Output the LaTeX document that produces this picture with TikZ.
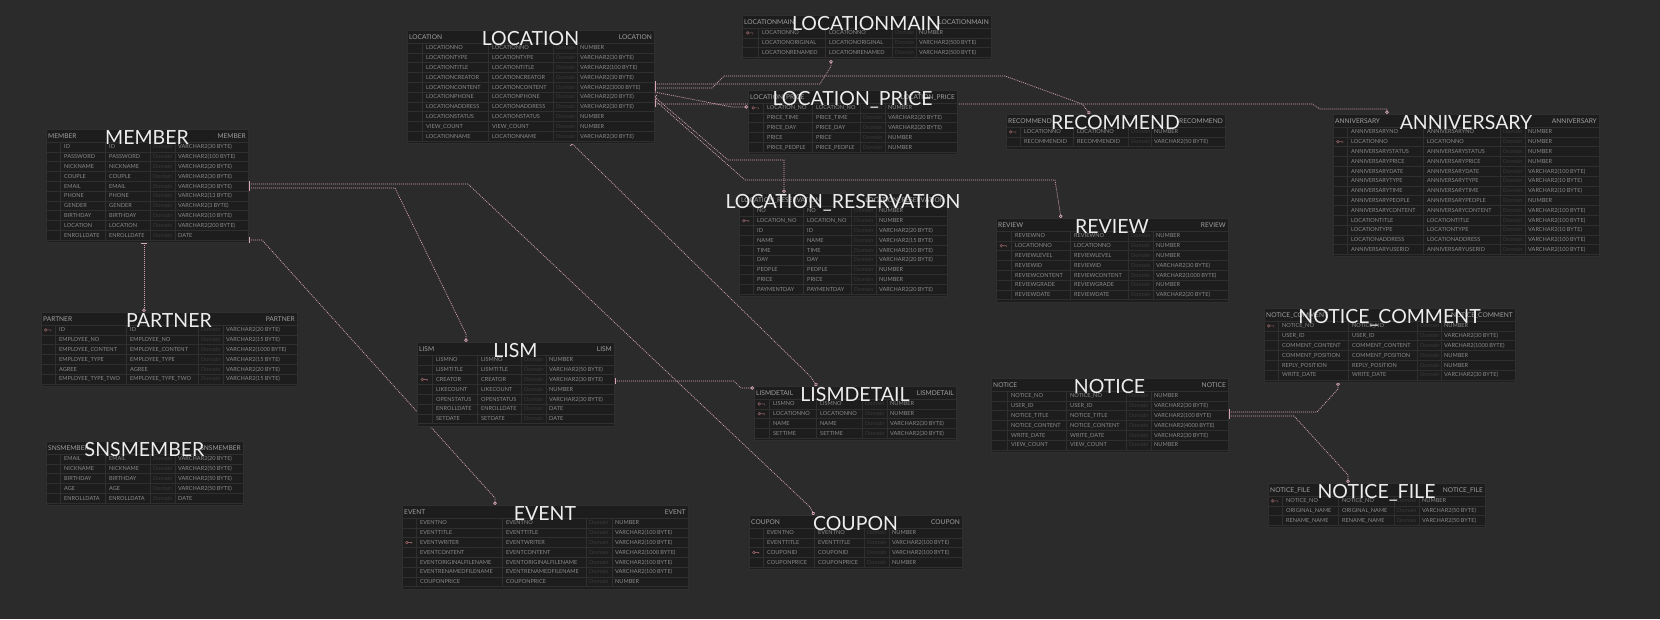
\documentclass[tikz,border=0pt]{standalone}
\usepackage{fontspec}
\setmainfont{Lato}
\usetikzlibrary{arrows.meta,positioning}

\definecolor{bgcol}{HTML}{2B2B2B}
\definecolor{tblfill}{HTML}{1D1D1D}
\definecolor{gridcol}{HTML}{2F2F2F}
\definecolor{cellcol}{HTML}{8A8A8A}
\definecolor{hdrcol}{HTML}{A0A0A0}
\definecolor{domcol}{HTML}{3A3A3A}
\definecolor{relcol}{HTML}{D9A7B6}
\definecolor{keycol}{HTML}{8E5E62}

\pgfdeclarelayer{background}
\pgfsetlayers{background,main}

% #1 name, #2 title, #3 left, #4 top, #5 width, #6 column lines a/b/c/d, #7 rows, #8 row list key/name/type
\newcommand\ertable[8]{%
  \node[tbl, minimum width=#5, minimum height=15+#7*9.8] (#1) at (#3,#4) {};
  \foreach \ca/\cb/\cc/\cd in {#6}{%
    \draw[gridline] (#3,#4+13) -- (#3+#5,#4+13);
    \foreach \k in {1,...,#7}
      \draw[gridline] (#3,#4+13+9.8*\k) -- (#3+#5,#4+13+9.8*\k);
    \foreach \c in {\ca,\cb,\cc,\cd}
      \draw[gridline] (#3+\c,#4+13) -- (#3+\c,#4+13+9.8*#7);
    \foreach \k/\n/\t [count=\i] in {#8}{%
      \pgfmathsetmacro\ry{#4+13+9.8*\i-2.9}
      \node[cell] (#1-a\i) at (#3+\ca+4,\ry) {\n};
      \node[cell] (#1-b\i) at (#3+\cb+4,\ry) {\n};
      \node[dom] (#1-c\i) at (#3+\cc+3,\ry) {Domain};
      \node[cell] (#1-d\i) at (#3+\cd+3,\ry) {\t};
      \ifnum\k=1
        \draw[keymark] (#3+\ca/2-2.2,\ry-2) circle[radius=1.3pt]
          (#3+\ca/2-0.9,\ry-2) -- (#3+\ca/2+2.8,\ry-2) -- (#3+\ca/2+2.8,\ry-0.6);
      \fi
    }
  }
  \node[hdr, anchor=base west] (#1-hl) at (#3+2,#4+9) {#2};
  \node[hdr, anchor=base east] (#1-hr) at (#3+#5-2,#4+9) {#2};
  \node[ttl] (#1-t) at (#3+#5/2,#4+15) {#2};
}

\begin{document}
\begin{tikzpicture}[
  x=1pt, y=-1pt,
  tbl/.style={draw=gridcol, fill=tblfill, anchor=north west, inner sep=0pt, line width=0.6pt},
  gridline/.style={draw=gridcol, line width=0.5pt},
  cell/.style={font=\fontsize{5.6}{6}\selectfont, text=cellcol, inner sep=0pt, anchor=base west},
  dom/.style={cell, text=domcol},
  hdr/.style={font=\fontsize{6.6}{7}\selectfont, text=hdrcol, inner sep=0pt},
  ttl/.style={font=\fontsize{19.5}{20}\selectfont, text=white!93!black, inner sep=0pt, anchor=base},
  keymark/.style={draw=keycol, line width=0.6pt},
  rel/.style={draw=relcol, line width=0.7pt, dash pattern=on 1pt off 1pt,
    {Bar[width=6pt,line width=0.7pt]}-{Circle[open,length=3.5pt,line width=0.7pt]}}
]
\useasboundingbox (0,0) rectangle (1660,619);

% tables
\ertable{member}{MEMBER}{46}{129}{202}{14/59/104/129}{10}{0/ID/VARCHAR2(30 BYTE),0/PASSWORD/VARCHAR2(100 BYTE),0/NICKNAME/VARCHAR2(20 BYTE),0/COUPLE/VARCHAR2(30 BYTE),0/EMAIL/VARCHAR2(30 BYTE),0/PHONE/VARCHAR2(13 BYTE),0/GENDER/VARCHAR2(3 BYTE),0/BIRTHDAY/VARCHAR2(10 BYTE),0/LOCATION/VARCHAR2(200 BYTE),0/ENROLLDATE/DATE}
\ertable{location}{LOCATION}{407}{30}{247}{15/81/146/170}{10}{0/LOCATIONNO/NUMBER,0/LOCATIONTYPE/VARCHAR2(30 BYTE),0/LOCATIONTITLE/VARCHAR2(100 BYTE),0/LOCATIONCREATOR/VARCHAR2(30 BYTE),0/LOCATIONCONTENT/VARCHAR2(3000 BYTE),0/LOCATIONPHONE/VARCHAR2(20 BYTE),0/LOCATIONADDRESS/VARCHAR2(30 BYTE),0/LOCATIONSTATUS/NUMBER,0/VIEW\_COUNT/NUMBER,0/LOCATIONNAME/VARCHAR2(30 BYTE)}
\ertable{locmain}{LOCATIONMAIN}{742}{15}{249}{16/83/150/174}{3}{1/LOCATIONNO/NUMBER,0/LOCATIONORIGINAL/VARCHAR2(500 BYTE),0/LOCATIONRENAMED/VARCHAR2(500 BYTE)}
\ertable{locprice}{LOCATION\_PRICE}{748}{90}{209}{15/64/112/137}{5}{1/LOCATION\_NO/NUMBER,0/PRICE\_TIME/VARCHAR2(20 BYTE),0/PRICE\_DAY/VARCHAR2(20 BYTE),0/PRICE/NUMBER,0/PRICE\_PEOPLE/NUMBER}
\ertable{recommend}{RECOMMEND}{1006}{114}{219}{14/67/122/145}{2}{1/LOCATIONNO/NUMBER,0/RECOMMENDID/VARCHAR2(50 BYTE)}
\ertable{anniversary}{ANNIVERSARY}{1333}{114}{266}{14/90/167/192}{13}{0/ANNIVERSARYNO/NUMBER,1/LOCATIONNO/NUMBER,0/ANNIVERSARYSTATUS/NUMBER,0/ANNIVERSARYPRICE/NUMBER,0/ANNIVERSARYDATE/VARCHAR2(100 BYTE),0/ANNIVERSARYTYPE/VARCHAR2(10 BYTE),0/ANNIVERSARYTIME/VARCHAR2(10 BYTE),0/ANNIVERSARYPEOPLE/NUMBER,0/ANNIVERSARYCONTENT/VARCHAR2(100 BYTE),0/LOCATIONTITLE/VARCHAR2(100 BYTE),0/LOCATIONTYPE/VARCHAR2(10 BYTE),0/LOCATIONADDRESS/VARCHAR2(100 BYTE),0/ANNIVERSARYUSERID/VARCHAR2(100 BYTE)}
\ertable{locres}{LOCATION\_RESERVATION}{739}{193}{208}{14/64/112/137}{9}{0/NO/NUMBER,1/LOCATION\_NO/NUMBER,0/ID/VARCHAR2(20 BYTE),0/NAME/VARCHAR2(15 BYTE),0/TIME/VARCHAR2(10 BYTE),0/DAY/VARCHAR2(20 BYTE),0/PEOPLE/NUMBER,0/PRICE/NUMBER,0/PAYMENTDAY/VARCHAR2(20 BYTE)}
\ertable{review}{REVIEW}{996}{218}{232}{15/74/132/157}{7}{0/REVIEWNO/NUMBER,1/LOCATIONNO/NUMBER,0/REVIEWLEVEL/NUMBER,0/REVIEWID/VARCHAR2(30 BYTE),0/REVIEWCONTENT/VARCHAR2(1000 BYTE),0/REVIEWGRADE/NUMBER,0/REVIEWDATE/VARCHAR2(20 BYTE)}
\ertable{partner}{PARTNER}{41}{312}{256}{14/85/157/182}{6}{1/ID/VARCHAR2(20 BYTE),0/EMPLOYEE\_NO/VARCHAR2(15 BYTE),0/EMPLOYEE\_CONTENT/VARCHAR2(1000 BYTE),0/EMPLOYEE\_TYPE/VARCHAR2(15 BYTE),0/AGREE/VARCHAR2(20 BYTE),0/EMPLOYEE\_TYPE\_TWO/VARCHAR2(15 BYTE)}
\ertable{snsmember}{SNSMEMBER}{46}{441}{197}{14/59/104/129}{5}{0/EMAIL/VARCHAR2(20 BYTE),0/NICKNAME/VARCHAR2(50 BYTE),0/BIRTHDAY/VARCHAR2(50 BYTE),0/AGE/VARCHAR2(50 BYTE),0/ENROLLDATA/DATE}
\ertable{lism}{LISM}{417}{342}{197}{15/60/104/129}{7}{0/LISMNO/NUMBER,0/LISMTITLE/VARCHAR2(50 BYTE),1/CREATOR/VARCHAR2(30 BYTE),0/LIKECOUNT/NUMBER,0/OPENSTATUS/VARCHAR2(30 BYTE),0/ENROLLDATE/DATE,0/SETDATE/DATE}
\ertable{lismdetail}{LISMDETAIL}{754}{386}{202}{15/62/108/133}{4}{1/LISMNO/NUMBER,1/LOCATIONNO/NUMBER,0/NAME/VARCHAR2(30 BYTE),0/SETTIME/VARCHAR2(30 BYTE)}
\ertable{noticecomment}{NOTICE\_COMMENT}{1264}{308}{251}{14/84/153/177}{6}{1/NOTICE\_NO/NUMBER,0/USER\_ID/VARCHAR2(30 BYTE),0/COMMENT\_CONTENT/VARCHAR2(1000 BYTE),0/COMMENT\_POSITION/NUMBER,0/REPLY\_POSITION/NUMBER,0/WRITE\_DATE/VARCHAR2(30 BYTE)}
\ertable{notice}{NOTICE}{991}{378}{237}{16/75/135/160}{6}{0/NOTICE\_NO/NUMBER,0/USER\_ID/VARCHAR2(30 BYTE),0/NOTICE\_TITLE/VARCHAR2(100 BYTE),0/NOTICE\_CONTENT/VARCHAR2(4000 BYTE),0/WRITE\_DATE/VARCHAR2(30 BYTE),0/VIEW\_COUNT/NUMBER}
\ertable{noticefile}{NOTICE\_FILE}{1268}{483}{217}{14/70/126/151}{3}{1/NOTICE\_NO/NUMBER,0/ORIGINAL\_NAME/VARCHAR2(50 BYTE),0/RENAME\_NAME/VARCHAR2(50 BYTE)}
\ertable{event}{EVENT}{402}{505}{286}{14/100/184/210}{7}{0/EVENTNO/NUMBER,0/EVENTTITLE/VARCHAR2(100 BYTE),1/EVENTWRITER/VARCHAR2(100 BYTE),0/EVENTCONTENT/VARCHAR2(1000 BYTE),0/EVENTORIGINALFILENAME/VARCHAR2(100 BYTE),0/EVENTRENAMEDFILENAME/VARCHAR2(100 BYTE),0/COUPONPRICE/NUMBER}
\ertable{coupon}{COUPON}{749}{515}{213}{14/65/115/140}{4}{0/EVENTNO/NUMBER,0/EVENTTITLE/VARCHAR2(100 BYTE),1/COUPONID/VARCHAR2(100 BYTE),0/COUPONPRICE/NUMBER}

% relations, behind the tables
\begin{pgfonlayer}{background}
  \fill[bgcol] (0,0) rectangle (1660,619);
  \draw[rel] (member.south -| 144,0) -- (partner.north -| 144,0);
  \draw[rel] (member.east |- 0,240) -- (262,240) -- (495,498) -- (event.north -| 495,0);
  \draw[rel] (member.east |- 0,184) -- (468,184) -- (810,507) -- (coupon.north -| 814,0);
  \draw[rel] (member.east |- 0,188) -- (395,188) -- (466,334) -- (lism.north -| 466,0);
  \draw[rel] (location.south -| 572,0) -- (810,376) -- (lismdetail.north -| 817,0);
  \draw[rel] (lism.east |- 0,381) -- (734,381) -- (741,388) -- (lismdetail.west |- 0,388);
  \draw[rel] (notice.east |- 0,412) -- (1317,412) -- (1338,389) -- (noticecomment.south -| 1338,0);
  \draw[rel] (notice.east |- 0,416) -- (1294,416) -- (1348,475) -- (noticefile.north -| 1348,0);
  \draw[rel] (location.east |- 0,84) -- (820,84) -- (831,66) -- (locmain.south -| 831,0);
  \draw[rel] (location.east |- 0,88) -- (712,88) -- (724,76) -- (1005,76) -- (1082,104) -- (recommend.north -| 1090,0);
  \draw[rel] (location.east |- 0,92) -- (732,107) -- (locprice.west |- 0,107);
  \draw[rel] (location.east |- 0,104) -- (1312,104) -- (1320,109) -- (1387,109) -- (anniversary.north -| 1387,0);
  \draw[rel] (location.east |- 0,97) -- (728,160) -- (784,160) -- (locres.north -| 784,0);
  \draw[rel] (location.east |- 0,100) -- (745,180) -- (1055,180) -- (review.north -| 1061,0);
\end{pgfonlayer}
\end{tikzpicture}
\end{document}
